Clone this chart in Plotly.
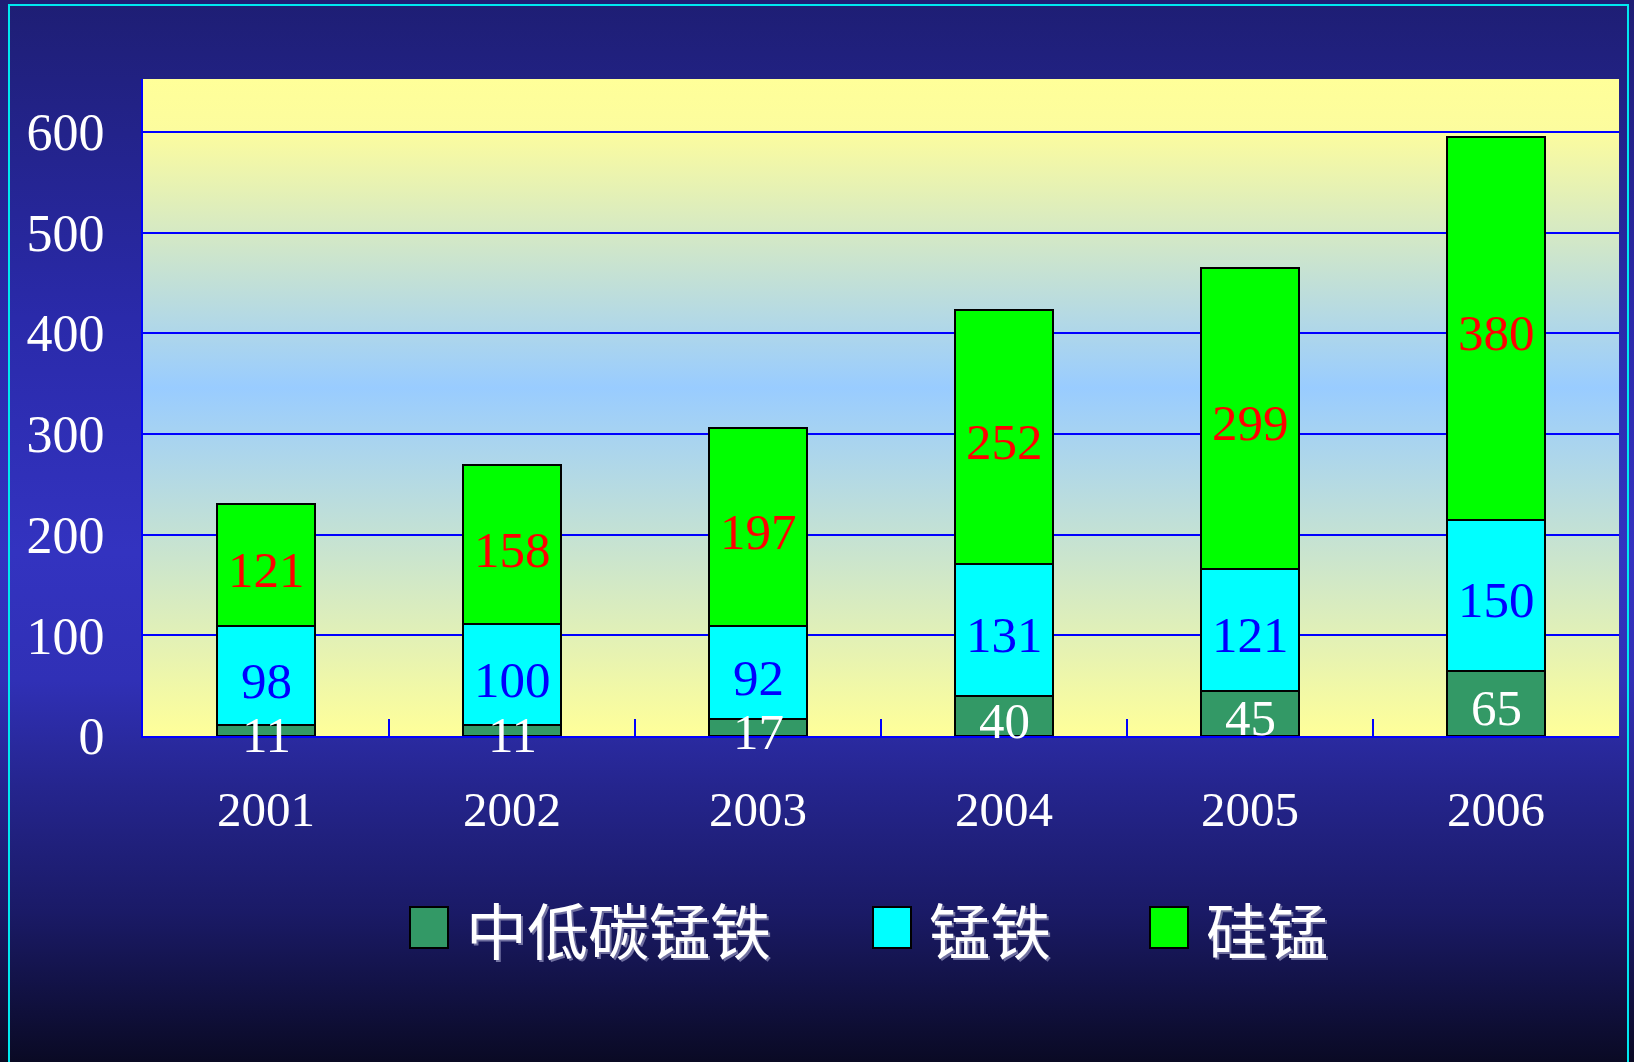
import base64

import numpy as np
import plotly.graph_objects as go

YEARS = ["2001", "2002", "2003", "2004", "2005", "2006"]
SERIES_NAMES = ["中低碳锰铁", "锰铁", "硅锰"]
LOW_CARBON = [11, 11, 17, 40, 45, 65]
FERRO_MN = [98, 100, 92, 131, 121, 150]
SILICO_MN = [121, 158, 197, 252, 299, 380]
Y_TICKS = [0, 100, 200, 300, 400, 500, 600]

BAR_COLORS = ["#339966", "#00ffff", "#00ff00"]
LABEL_COLORS = ["#ffffff", "#0000ff", "#ff0000"]

W, H = 1634, 1062
ML, MR, MT, MB = 143, 15, 79, 326
PW, PH = W - ML - MR, H - MT - MB

NUM_FONT = "Liberation Serif"
CJK_FONT = "Noto Sans CJK SC"


def xp(px):
    return (px - ML) / PW


def yp(py):
    return (H - MB - py) / PH


def gradient_uri(stops):
    s = "".join(f'<stop offset="{o}" stop-color="{c}"/>' for o, c in stops)
    svg = (
        '<svg xmlns="http://www.w3.org/2000/svg" width="100" height="100" '
        'preserveAspectRatio="none">'
        f'<defs><linearGradient id="g" x1="0" y1="0" x2="0" y2="1">{s}</linearGradient></defs>'
        '<rect width="100" height="100" fill="url(#g)"/></svg>'
    )
    return "data:image/svg+xml;base64," + base64.b64encode(svg.encode()).decode()


paper_grad = gradient_uri([
    (0, "#1e1e74"), (0.3, "#2a2aaa"), (0.52, "#3333c0"), (0.64, "#3030b6"),
    (0.74, "#25258e"), (0.86, "#1a1a66"), (1, "#0a0a24"),
])
plot_grad = gradient_uri([
    (0, "#ffff99"), (0.08, "#fcfc9e"), (0.47, "#99ccff"), (1, "#ffff99"),
])

series = [LOW_CARBON, FERRO_MN, SILICO_MN]
fig = go.Figure()
for name, vals, color in zip(SERIES_NAMES, series, BAR_COLORS):
    fig.add_trace(go.Bar(
        name=name, x=YEARS, y=vals,
        marker=dict(color=color, line=dict(color="#000000", width=2)),
        showlegend=False, hoverinfo="skip",
    ))

# segment labels at the middle of each stacked piece (x = category index)
arr = np.array(series, dtype=float)
tops = np.cumsum(arr, axis=0)
mids = tops - arr / 2
for vals, mid, color in zip(series, mids, LABEL_COLORS):
    for i, (v, m) in enumerate(zip(vals, mid)):
        fig.add_annotation(
            x=i, y=m, text=str(v), showarrow=False, yshift=-5,
            font=dict(family=NUM_FONT, size=51, color=color),
        )

fig.update_layout(
    width=W, height=H,
    margin=dict(l=ML, r=MR, t=MT, b=MB),
    barmode="stack", bargap=0.6,
    paper_bgcolor="#1e1e74",
    plot_bgcolor="rgba(0,0,0,0)",
    showlegend=False,
    images=[
        dict(source=paper_grad, xref="paper", yref="paper",
             x=xp(0), y=yp(0), sizex=W / PW, sizey=H / PH,
             sizing="stretch", layer="below", xanchor="left", yanchor="top"),
        dict(source=plot_grad, xref="paper", yref="paper",
             x=0, y=1, sizex=1, sizey=1,
             sizing="stretch", layer="below", xanchor="left", yanchor="top"),
    ],
)
fig.update_xaxes(
    type="category", showgrid=False, range=[-0.5, len(YEARS) - 0.5],
    showline=True, linecolor="#0000ff", linewidth=2,
    ticks="inside", tickson="boundaries", ticklen=17, tickwidth=2, tickcolor="#0000ff",
    tickfont=dict(family=NUM_FONT, size=49, color="#ffffff"),
    ticklabelstandoff=29,
)
fig.update_yaxes(
    range=[0, 652.5], tickvals=Y_TICKS,
    showgrid=True, gridcolor="#0000ff", gridwidth=2,
    showline=True, linecolor="#0000ff", linewidth=2,
    ticks="inside", ticklen=15, tickwidth=2, tickcolor="#0000ff",
    tickfont=dict(family=NUM_FONT, size=52, color="#ffffff"),
    ticklabelstandoff=26, zeroline=False,
)

# outer cyan frame
fig.add_shape(type="rect", xref="paper", yref="paper",
              x0=xp(9), x1=xp(1628), y0=yp(5), y1=yp(1080),
              line=dict(color="#00e8f0", width=2), fillcolor="rgba(0,0,0,0)")

# legend drawn by hand so the boxes can be large
legend_box_x = [410, 873, 1150]
for name, color, bx in zip(SERIES_NAMES, BAR_COLORS, legend_box_x):
    fig.add_shape(type="rect", xref="paper", yref="paper",
                  x0=xp(bx), x1=xp(bx + 38), y0=yp(907), y1=yp(948),
                  fillcolor=color, line=dict(color="#000000", width=2))
    fig.add_annotation(
        xref="paper", yref="paper", x=xp(bx + 54), y=yp(928),
        xanchor="left", yanchor="middle", showarrow=False, text=name,
        font=dict(family=CJK_FONT, size=61, color="#ffffff",
                  shadow="2px 2px 0px #7070a0"),
    )

fig.write_html(
    "out.html",
    config={"displayModeBar": False},
    post_script="document.body.style.margin='0';document.body.style.overflow='hidden';",
)
